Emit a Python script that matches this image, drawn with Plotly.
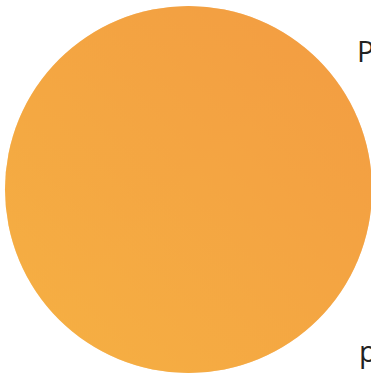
import plotly.graph_objects as go

# Data
circle_x = [188.5]
circle_y = [189.5]
circle_size = [367]
labels = ["P", "p"]

color_bl = "#F6B143"
color_tr = "#F39C42"

fig = go.Figure()
# horizontal gradient base
fig.add_trace(go.Scatter(
    x=circle_x, y=circle_y, mode="markers", hoverinfo="skip", showlegend=False,
    marker=dict(size=circle_size, color=color_bl, opacity=1, line=dict(width=0),
                gradient=dict(type="horizontal", color=color_tr)),
    cliponaxis=False,
))
# vertical gradient overlay
fig.add_trace(go.Scatter(
    x=circle_x, y=circle_y, mode="markers", hoverinfo="skip", showlegend=False,
    opacity=0.5,
    marker=dict(size=circle_size, color=color_tr, opacity=1, line=dict(width=0),
                gradient=dict(type="vertical", color=color_bl)),
    cliponaxis=False,
))

fig.add_annotation(x=354.5, y=50, xref="x", yref="y", text=labels[0], showarrow=False,
                   xanchor="left", yanchor="middle",
                   font=dict(family="Open Sans", size=29, color="#222222"))
fig.add_annotation(x=356.5, y=350, xref="x", yref="y", text=labels[1], showarrow=False,
                   xanchor="left", yanchor="middle",
                   font=dict(family="Open Sans", size=29, color="#222222"))

fig.update_layout(
    width=371, height=376,
    margin=dict(l=0, r=0, t=0, b=0),
    paper_bgcolor="white", plot_bgcolor="white",
    xaxis=dict(range=[0, 371], visible=False, fixedrange=True),
    yaxis=dict(range=[376, 0], visible=False, fixedrange=True),
)

fig.write_html("out.html", config={"displayModeBar": False},
               post_script="document.body.style.margin='0';document.body.style.overflow='hidden';")
